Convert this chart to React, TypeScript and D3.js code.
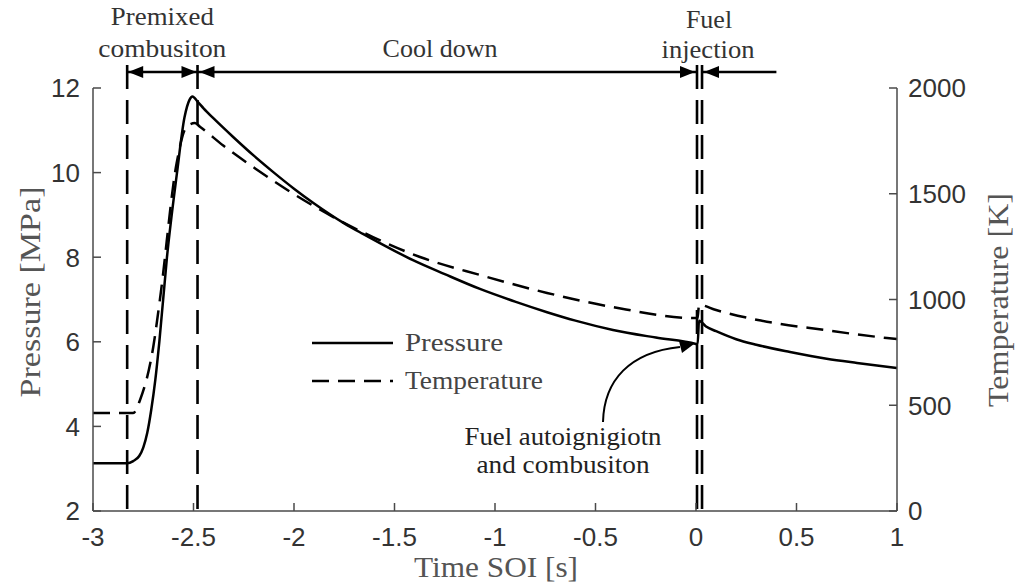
import React from "react";
import * as d3 from "d3";

// ---- data ----
const TIME_P = [-3, -2.83, -2.8, -2.77, -2.75, -2.73, -2.71, -2.69, -2.67, -2.632, -2.582, -2.545, -2.52, -2.505, -2.48, -2.45, -2.4, -2.3, -2.2, -2.1, -2.0, -1.9, -1.75, -1.657, -1.5, -1.408, -1.25, -1.075, -0.9, -0.741, -0.6, -0.413, -0.2, 0.0, 0.008, 0.015, 0.05, 0.1, 0.2, 0.3, 0.468, 0.65, 0.801, 1];
const PRESSURE = [3.13, 3.13, 3.18, 3.3, 3.5, 3.85, 4.4, 5.1, 6.0, 8.0, 10.0, 11.3, 11.72, 11.8, 11.68, 11.52, 11.28, 10.83, 10.4, 10.0, 9.62, 9.27, 8.8, 8.55, 8.15, 7.93, 7.6, 7.25, 6.95, 6.7, 6.5, 6.28, 6.1, 5.95, 5.94, 6.5, 6.36, 6.25, 6.06, 5.93, 5.76, 5.6, 5.5, 5.38];

const TIME_T = [-3, -2.8, -2.766, -2.7, -2.667, -2.584, -2.534, -2.493, -2.468, -2.352, -2.186, -2.02, -1.607, -1.373, -1.075, -0.741, -0.413, 0.0, 0.008, 0.015, 0.1, 0.308, 0.637, 0.95, 1];
const TEMPERATURE = [463, 463, 525, 777, 1000, 1644, 1817, 1834, 1817, 1728, 1615, 1510, 1295, 1201, 1116, 1031, 964, 912, 912, 975, 950, 903, 856, 818, 813];

const X_TICKS = [-3, -2.5, -2, -1.5, -1, -0.5, 0, 0.5, 1];
const X_TICK_LABELS = ["-3", "-2.5", "-2", "-1.5", "-1", "-0.5", "0", "0.5", "1"];
const P_TICKS = [2, 4, 6, 8, 10, 12];
const T_TICKS = [0, 500, 1000, 1500, 2000];

// event times (vertical dashed markers)
const EVENTS = [-2.83, -2.48, 0.005, 0.03];
const FUEL_ARROW_END = 0.4;

const SERIES_NAMES = ["Pressure", "Temperature"];

const W = 1022;
const H = 583;

function head(tipX: number, y: number, dir: number) {
  const L = 15, hw = 6;
  return `${tipX},${y} ${tipX - dir * L},${y - hw} ${tipX - dir * L},${y + hw}`;
}

export default function App() {
  const x = d3.scaleLinear().domain([-3, 1]).range([93, 897]);
  const yP = d3.scaleLinear().domain([2, 12]).range([511, 88]);
  const yT = d3.scaleLinear().domain([0, 2000]).range([511, 88]);

  const pData = TIME_P.map((t, i) => [t, PRESSURE[i]] as [number, number]);
  const tData = TIME_T.map((t, i) => [t, TEMPERATURE[i]] as [number, number]);

  const lineP = d3.line<[number, number]>().x(d => x(d[0])).y(d => yP(d[1])).curve(d3.curveMonotoneX);
  const lineT = d3.line<[number, number]>().x(d => x(d[0])).y(d => yT(d[1])).curve(d3.curveMonotoneX);

  const axisColor = "#4a4a4a";
  const tickFont = "'Liberation Sans', Arial, sans-serif";
  const serif = "'Liberation Serif', 'Times New Roman', serif";
  const arrowY = 72;
  const ev = EVENTS.map(e => x(e));

  return (
    <div style={{ position: "absolute", left: 0, top: 0 }}>
      <svg width={W} height={H} style={{ display: "block", background: "#fff" }}>
        {/* vertical event lines */}
        {ev.map((ex, i) => (
          <line key={"ev" + i} x1={ex} x2={ex} y1={65} y2={511} stroke="#000" strokeWidth={2.6} strokeDasharray="24,11" />
        ))}

        {/* curves */}
        <path d={lineT(tData) || ""} fill="none" stroke="#000" strokeWidth={2.5} strokeDasharray="17,9" />
        <path d={lineP(pData) || ""} fill="none" stroke="#000" strokeWidth={2.5} />

        {/* axes */}
        <line x1={x(-3)} x2={x(-3)} y1={yP(12)} y2={yP(2)} stroke={axisColor} strokeWidth={1.5} />
        <line x1={x(1)} x2={x(1)} y1={yT(2000)} y2={yT(0)} stroke={axisColor} strokeWidth={1.5} />
        <line x1={x(-3)} x2={x(1)} y1={yP(2)} y2={yP(2)} stroke={axisColor} strokeWidth={1.5} />
        {P_TICKS.map(v => (
          <g key={"p" + v}>
            <line x1={x(-3)} x2={x(-3) + 8} y1={yP(v)} y2={yP(v)} stroke={axisColor} strokeWidth={1.5} />
            <text x={80} y={yP(v)} dy="0.36em" textAnchor="end" fontFamily={tickFont} fontSize={26} fill="#333">{v}</text>
          </g>
        ))}
        {T_TICKS.map(v => (
          <g key={"t" + v}>
            <line x1={x(1)} x2={x(1) - 8} y1={yT(v)} y2={yT(v)} stroke={axisColor} strokeWidth={1.5} />
            <text x={908} y={yT(v)} dy="0.36em" textAnchor="start" fontFamily={tickFont} fontSize={26} fill="#333">{v}</text>
          </g>
        ))}
        {X_TICKS.map((v, i) => (
          <g key={"x" + v}>
            <line x1={x(v)} x2={x(v)} y1={yP(2)} y2={yP(2) - 8} stroke={axisColor} strokeWidth={1.5} />
            <text x={x(v)} y={546} textAnchor="middle" fontFamily={tickFont} fontSize={26} fill="#333">{X_TICK_LABELS[i]}</text>
          </g>
        ))}

        {/* axis labels */}
        <text x={414} y={577} fontFamily={serif} fontSize={29} fill="#555" textLength={164} lengthAdjust="spacingAndGlyphs">Time SOI [s]</text>
        <text transform="translate(40,292) rotate(-90)" textAnchor="middle" fontFamily={serif} fontSize={29} fill="#555" textLength={211} lengthAdjust="spacingAndGlyphs">Pressure [MPa]</text>
        <text transform="translate(1008,300) rotate(-90)" textAnchor="middle" fontFamily={serif} fontSize={29} fill="#555" textLength={214} lengthAdjust="spacingAndGlyphs">Temperature [K]</text>

        {/* phase arrows */}
        <line x1={ev[0]} x2={ev[1]} y1={arrowY} y2={arrowY} stroke="#000" strokeWidth={2.5} />
        <polygon points={head(ev[0] + 1, arrowY, -1)} fill="#000" />
        <polygon points={head(ev[1] - 1, arrowY, 1)} fill="#000" />
        <line x1={ev[1]} x2={ev[2]} y1={arrowY} y2={arrowY} stroke="#000" strokeWidth={2.5} />
        <polygon points={head(ev[1] + 2, arrowY, -1)} fill="#000" />
        <polygon points={head(ev[2] - 2, arrowY, 1)} fill="#000" />
        <line x1={ev[3]} x2={x(FUEL_ARROW_END)} y1={arrowY} y2={arrowY} stroke="#000" strokeWidth={2.5} />
        <polygon points={head(ev[3] + 2, arrowY, -1)} fill="#000" />

        {/* phase labels */}
        <g fontFamily={serif} fontSize={26} fill="#333" textAnchor="middle">
          <text x={(ev[0] + ev[1]) / 2} y={25} textLength={103} lengthAdjust="spacingAndGlyphs">Premixed</text>
          <text x={(ev[0] + ev[1]) / 2} y={57} textLength={128} lengthAdjust="spacingAndGlyphs">combusiton</text>
          <text x={440} y={57}>Cool down</text>
          <text x={709} y={28}>Fuel</text>
          <text x={708} y={58} textLength={93} lengthAdjust="spacingAndGlyphs">injection</text>
        </g>

        {/* legend */}
        <line x1={312} x2={393} y1={343} y2={343} stroke="#000" strokeWidth={2.5} />
        <line x1={312} x2={393} y1={381} y2={381} stroke="#000" strokeWidth={2.5} strokeDasharray="17,9" />
        <text x={405} y={351} fontFamily={serif} fontSize={26} fill="#444" textLength={98} lengthAdjust="spacingAndGlyphs">{SERIES_NAMES[0]}</text>
        <text x={405} y={389} fontFamily={serif} fontSize={26} fill="#444" textLength={138} lengthAdjust="spacingAndGlyphs">{SERIES_NAMES[1]}</text>

        {/* annotation */}
        <path d={`M603,422 C604,380 630,352 ${x(0) - 16},${yP(5.95) + 3}`} fill="none" stroke="#000" strokeWidth={2} />
        <polygon points={`${x(0) - 2},${yP(5.95)} ${x(0) - 17},${yP(5.95) - 3} ${x(0) - 14},${yP(5.95) + 9}`} fill="#000" />
        <g fontFamily={serif} fontSize={26} fill="#222" textAnchor="middle">
          <text x={563} y={445} textLength={197} lengthAdjust="spacingAndGlyphs">Fuel autoignigiotn</text>
          <text x={563} y={473} textLength={173} lengthAdjust="spacingAndGlyphs">and combusiton</text>
        </g>
      </svg>
    </div>
  );
}
